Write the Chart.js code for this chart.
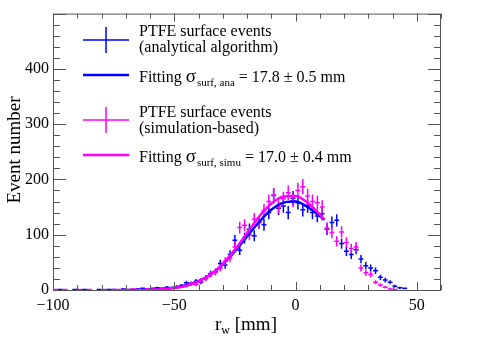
<!DOCTYPE html>
<html>
<head>
<meta charset="utf-8">
<script src="https://cdn.jsdelivr.net/npm/chart.js@4.4.1/dist/chart.umd.min.js"></script>
<style>
html, body { margin: 0; padding: 0; background: #fff; }
#wrap { width: 485px; height: 350px; position: relative; }
</style>
</head>
<body>
<div id="wrap"><canvas id="rwChart"></canvas></div>
<script>
// bin centres in mm (2 mm bins)
var binCenters = [
  -99, -97, -95, -93, -91, -89, -87, -85, -83, -81,
  -79, -77, -75, -73, -71, -69, -67, -65, -63, -61,
  -59, -57, -55, -53, -51, -49, -47, -45, -43, -41,
  -39, -37, -35, -33, -31, -29, -27, -25, -23, -21,
  -19, -17, -15, -13, -11, -9, -7, -5, -3, -1,
  1, 3, 5, 7, 9, 11, 13, 15, 17, 19,
  21, 23, 25, 27, 29, 31, 33, 35, 37, 39,
  41, 43, 45
];
// PTFE surface events, analytical algorithm
var countsAna = [
  0, 1, 0, 0, 1, 0, 1, 0, 0, 1,
  0, 1, 1, 0, 2, 1, 1, 2, 3, 2,
  3, 4, 3, 5, 4, 6, 8, 13, 11, 16,
  14, 22, 30, 33, 48, 45, 64, 90, 72, 94,
  110, 98, 122, 118, 140, 171, 148, 152, 140, 166,
  158, 145, 152, 140, 134, 138, 110, 122, 126, 84,
  70, 64, 73, 56, 44, 40, 35, 23, 18, 14,
  7, 4, 3
];
// PTFE surface events, simulation-based
var countsSimu = [
  1, 0, 1, 0, 0, 1, 0, 1, 0, 0,
  1, 0, 1, 1, 1, 1, 2, 1, 1, 2,
  2, 2, 3, 2, 4, 5, 6, 8, 12, 10,
  17, 20, 28, 32, 40, 52, 58, 78, 113, 117,
  100, 128, 122, 144, 160, 172, 150, 165, 176, 162,
  180, 187, 170, 160, 158, 150, 112, 104, 88, 105,
  86, 75, 78, 40, 31, 28, 14, 9, 5, 2,
  1, 0, 0
];
// gaussian fits
var fitX    = [-60, -55, -50, -45, -40, -35, -30, -25, -20, -15, -10, -5, 0, 5, 10, 12];
var fitAna  = [0.8, 1.8, 4, 8.5, 16, 28, 46, 70, 97, 123, 145, 158, 160, 150, 134, 127];
var fitSimu = [0.6, 1.5, 3.5, 7.8, 15.5, 28, 47, 73, 103, 133, 156, 169, 170, 158, 137, 127];

var xTicks = [-100, -50, 0, 50];
var yTicks = [0, 100, 200, 300, 400];

var BLUE = '#0000ff';
var MAGENTA = '#ff00ff';
var FONT = "'Liberation Serif', 'Times New Roman', serif";

function pairs(xs, ys, skipZero) {
  var out = [];
  for (var i = 0; i < xs.length; i++) {
    if (skipZero && !ys[i]) continue;
    out.push({ x: xs[i], y: ys[i] });
  }
  return out;
}

// error bars: +-1 mm horizontally (half bin), sqrt(N) vertically
var errorBars = {
  id: 'errorBars',
  beforeDatasetsDraw: function(chart) {
    var ctx = chart.ctx, xs = chart.scales.x, ys = chart.scales.y;
    ctx.save();
    ctx.lineWidth = 1.5;
    chart.data.datasets.forEach(function(ds) {
      if (!ds.isHisto) return;
      ctx.strokeStyle = ds.barColor;
      ds.data.forEach(function(p) {
        var err = Math.sqrt(p.y);
        var px = xs.getPixelForValue(p.x), py = ys.getPixelForValue(p.y);
        ctx.beginPath();
        ctx.moveTo(xs.getPixelForValue(p.x - 1), py);
        ctx.lineTo(xs.getPixelForValue(p.x + 1), py);
        ctx.moveTo(px, ys.getPixelForValue(p.y - err));
        ctx.lineTo(px, ys.getPixelForValue(p.y + err));
        ctx.stroke();
      });
    });
    ctx.restore();
  }
};

// ROOT style frame with ticks on all four sides, legend and axis titles
var frameDeco = {
  id: 'frameDeco',
  afterDraw: function(chart) {
    var ctx = chart.ctx, a = chart.chartArea, xs = chart.scales.x, ys = chart.scales.y;
    ctx.save();
    ctx.strokeStyle = '#555';
    ctx.lineWidth = 1;
    ctx.strokeRect(a.left + 0.5, a.top + 0.5, a.right - a.left - 1, a.bottom - a.top);
    ctx.beginPath();
    for (var v = -100; v <= 60; v += 10) {
      var px = Math.round(xs.getPixelForValue(v)) + 0.5;
      var len = (v % 50 === 0) ? 8 : 5;
      ctx.moveTo(px, a.bottom); ctx.lineTo(px, a.bottom - len);
      ctx.moveTo(px, a.top); ctx.lineTo(px, a.top + len);
    }
    for (var w = 0; w <= 500; w += 20) {
      var py = Math.round(ys.getPixelForValue(w)) + 0.5;
      var l2 = (w % 100 === 0) ? 13 : 7;
      ctx.moveTo(a.left, py); ctx.lineTo(a.left + l2, py);
      ctx.moveTo(a.right, py); ctx.lineTo(a.right - l2, py);
    }
    ctx.stroke();

    // legend
    ctx.fillStyle = '#000';
    ctx.textBaseline = 'alphabetic';
    ctx.textAlign = 'left';
    function cross(color, cy) {
      ctx.strokeStyle = color;
      ctx.lineWidth = 1.5;
      ctx.beginPath();
      ctx.moveTo(83, cy); ctx.lineTo(129, cy);
      ctx.moveTo(106, cy - 13); ctx.lineTo(106, cy + 13);
      ctx.stroke();
    }
    function fitLine(color, cy) {
      ctx.strokeStyle = color;
      ctx.lineWidth = 2.5;
      ctx.beginPath();
      ctx.moveTo(83, cy); ctx.lineTo(129, cy);
      ctx.stroke();
    }
    function fitText(sub, val, base) {
      var x = 139;
      ctx.font = '16px ' + FONT;
      ctx.fillText('Fitting ', x, base); x += ctx.measureText('Fitting ').width;
      ctx.font = '19px ' + FONT;
      ctx.fillText('\u03c3', x, base); x += ctx.measureText('\u03c3').width + 1;
      ctx.font = '11px ' + FONT;
      ctx.fillText(sub, x, base + 4); x += ctx.measureText(sub).width;
      ctx.font = '16px ' + FONT;
      ctx.fillText(' = ' + val, x, base);
    }
    cross(BLUE, 40);
    ctx.font = '16px ' + FONT;
    ctx.fillText('PTFE surface events', 139, 36);
    ctx.fillText('(analytical algorithm)', 139, 52);
    fitLine(BLUE, 75);
    fitText('surf, ana', '17.8 \u00b1 0.5 mm', 82);
    cross(MAGENTA, 120);
    ctx.font = '16px ' + FONT;
    ctx.fillText('PTFE surface events', 139, 117);
    ctx.fillText('(simulation-based)', 139, 133);
    fitLine(MAGENTA, 155);
    fitText('surf, simu', '17.0 \u00b1 0.4 mm', 162);

    // axis titles
    ctx.font = '19px ' + FONT;
    ctx.save();
    ctx.translate(20, 150);
    ctx.rotate(-Math.PI / 2);
    ctx.textAlign = 'center';
    ctx.fillText('Event number', 0, 0);
    ctx.restore();
    var tx = 215;
    ctx.font = '19px ' + FONT;
    ctx.fillText('r', tx, 330); tx += ctx.measureText('r').width;
    ctx.font = '12px ' + FONT;
    ctx.fillText('w', tx, 334); tx += ctx.measureText('w').width;
    ctx.font = '19px ' + FONT;
    ctx.fillText(' [mm]', tx, 330);
    ctx.restore();
  }
};

Chart.defaults.font.family = FONT;
Chart.defaults.font.size = 16;
Chart.defaults.color = '#000';

var ctx = document.getElementById('rwChart').getContext('2d');
var rwChart = new Chart(ctx, {
  type: 'scatter',
  data: {
    datasets: [
      { label: 'ana', data: pairs(binCenters, countsAna, true), isHisto: true, barColor: BLUE, pointRadius: 0, showLine: false },
      { label: 'simu', data: pairs(binCenters, countsSimu, true), isHisto: true, barColor: MAGENTA, pointRadius: 0, showLine: false },
      { type: 'line', label: 'fit simu', data: pairs(fitX, fitSimu, false), borderColor: MAGENTA, borderWidth: 2.5, pointRadius: 0, cubicInterpolationMode: 'monotone', fill: false },
      { type: 'line', label: 'fit ana', data: pairs(fitX, fitAna, false), borderColor: BLUE, borderWidth: 2.5, pointRadius: 0, cubicInterpolationMode: 'monotone', fill: false }
    ]
  },
  options: {
    responsive: true,
    maintainAspectRatio: false,
    animation: false,
    layout: { padding: { left: 0, right: 44, top: 4, bottom: 0 } },
    plugins: { legend: { display: false }, tooltip: { enabled: false } },
    scales: {
      x: {
        type: 'linear', min: -100, max: 60,
        grid: { display: false, drawTicks: false },
        border: { display: false },
        afterBuildTicks: function(s) { s.ticks = xTicks.map(function(v) { return { value: v }; }); },
        afterFit: function(s) { s.height = 60; },
        ticks: {
          padding: 6, maxRotation: 0, autoSkip: false,
          callback: function(v) { return v < 0 ? '\u2212' + Math.abs(v) : '' + v; }
        }
      },
      y: {
        min: 0, max: 500,
        grid: { display: false, drawTicks: false },
        border: { display: false },
        afterBuildTicks: function(s) { s.ticks = yTicks.map(function(v) { return { value: v }; }); },
        afterFit: function(s) { s.width = 53; },
        ticks: { padding: 4, autoSkip: false }
      }
    }
  },
  plugins: [errorBars, frameDeco]
});
</script>
</body>
</html>
